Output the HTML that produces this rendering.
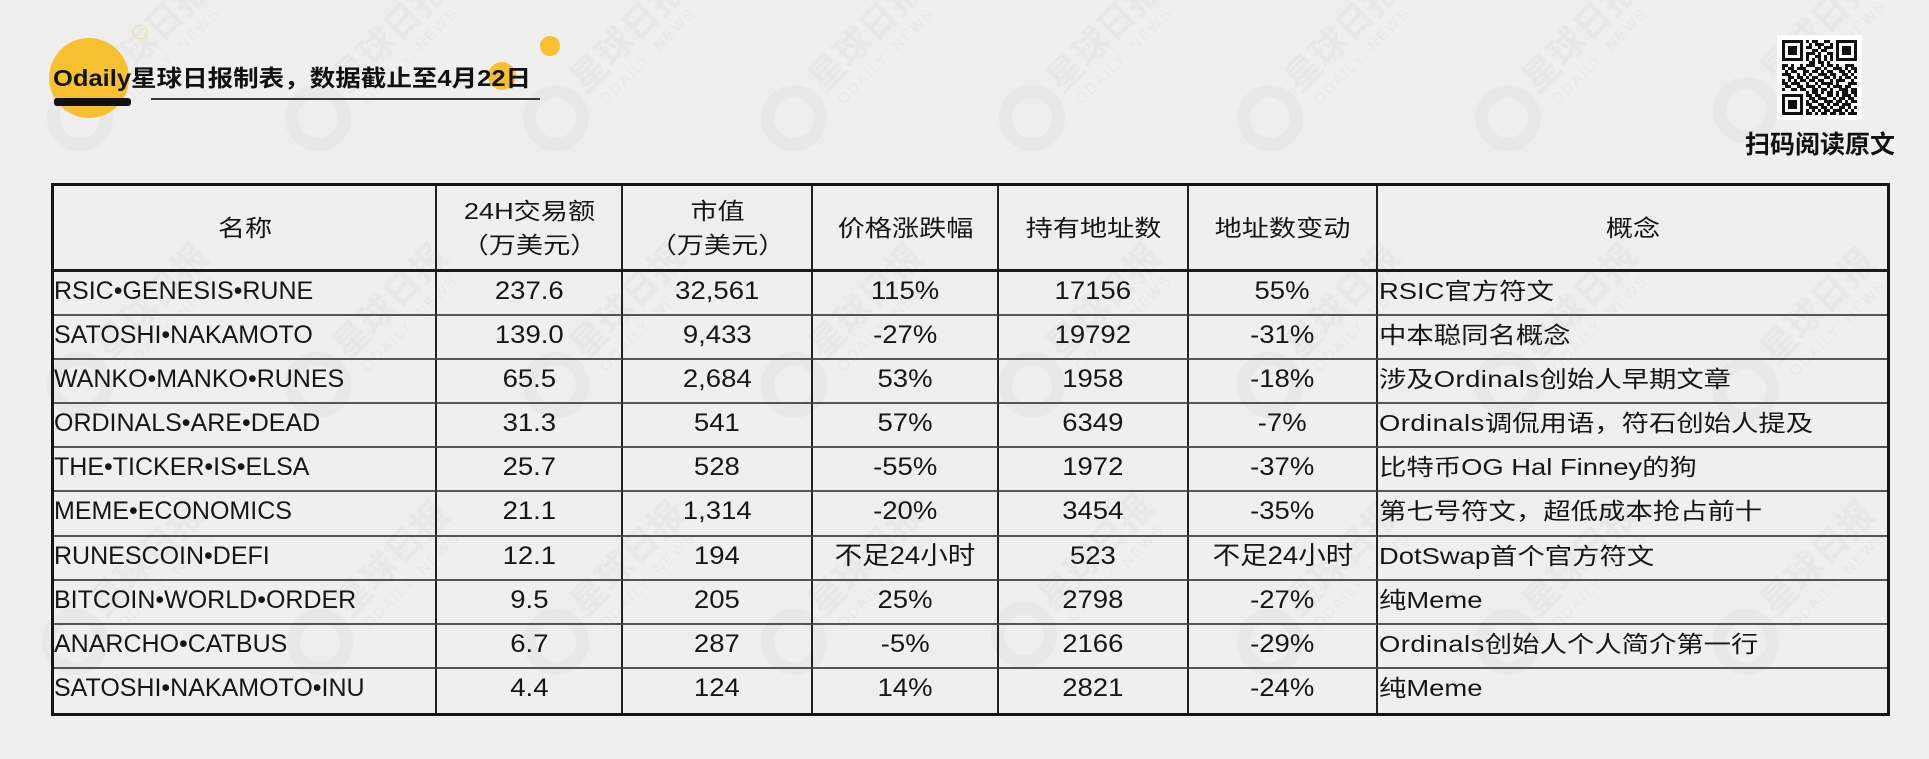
<!DOCTYPE html>
<html><head><meta charset="utf-8">
<style>
html,body{margin:0;padding:0}
body{background:#efefef;width:1929px;height:759px;overflow:hidden;position:relative;font-family:"Liberation Sans","Noto Sans CJK SC",sans-serif;color:#161616}
.wm{position:absolute;left:0;top:0}
.title{position:absolute;left:53px;top:64px;font-size:23px;line-height:28px;font-weight:700;white-space:nowrap;transform:scaleX(1.11);transform-origin:0 50%;color:#111}
.scan{position:absolute;left:1745px;top:130px;font-size:25px;line-height:30px;font-weight:700;white-space:nowrap;color:#111}
.tbl{position:absolute;left:51px;top:183px;width:1839px;height:533px;box-sizing:border-box;border:3px solid #161616;display:grid;grid-template-columns:383px 186px 190px 186px 190px 189px 509px;grid-template-rows:86px repeat(10,44.1px)}
.tbl>div{box-sizing:border-box;border-right:2px solid #222;border-bottom:2px solid #555;white-space:nowrap;overflow:visible}
.tbl>div.e{border-right:none}
.tbl>div.z{border-bottom:none}
.tbl>div.h{border-bottom:3px solid #1a1a1a;display:flex;align-items:center;justify-content:center;font-size:23px;line-height:34px;text-align:center}
.h span{display:inline-block;transform:scaleX(1.18)}
.n{font-size:25px;line-height:38px;padding-left:0}
.c{text-align:center;font-size:25px;line-height:38px}
.c span{display:inline-block;transform:scaleX(1.1)}
.k{font-size:23px;line-height:38px;padding-left:1px}
.k span{display:inline-block;transform:scaleX(1.19);transform-origin:0 50%}
.o{letter-spacing:0.4px;font-weight:400}
</style></head><body>

<svg class="wm" width="1929" height="759" viewBox="0 0 1929 759">
<g fill="#e8e8e8" stroke="#e8e8e8" font-family="Liberation Sans, Noto Sans CJK SC, sans-serif">
<g transform="translate(80,118)"><circle r="26.5" fill="none" stroke-width="13"/><g transform="rotate(-45)" stroke="none"><text x="38" y="4" font-size="36" font-weight="700">星球日报</text><text x="44" y="26" font-size="15" letter-spacing="2">ODAILY. NEWS</text></g></g>
<g transform="translate(318,118)"><circle r="26.5" fill="none" stroke-width="13"/><g transform="rotate(-45)" stroke="none"><text x="38" y="4" font-size="36" font-weight="700">星球日报</text><text x="44" y="26" font-size="15" letter-spacing="2">ODAILY. NEWS</text></g></g>
<g transform="translate(556,118)"><circle r="26.5" fill="none" stroke-width="13"/><g transform="rotate(-45)" stroke="none"><text x="38" y="4" font-size="36" font-weight="700">星球日报</text><text x="44" y="26" font-size="15" letter-spacing="2">ODAILY. NEWS</text></g></g>
<g transform="translate(794,118)"><circle r="26.5" fill="none" stroke-width="13"/><g transform="rotate(-45)" stroke="none"><text x="38" y="4" font-size="36" font-weight="700">星球日报</text><text x="44" y="26" font-size="15" letter-spacing="2">ODAILY. NEWS</text></g></g>
<g transform="translate(1032,118)"><circle r="26.5" fill="none" stroke-width="13"/><g transform="rotate(-45)" stroke="none"><text x="38" y="4" font-size="36" font-weight="700">星球日报</text><text x="44" y="26" font-size="15" letter-spacing="2">ODAILY. NEWS</text></g></g>
<g transform="translate(1270,118)"><circle r="26.5" fill="none" stroke-width="13"/><g transform="rotate(-45)" stroke="none"><text x="38" y="4" font-size="36" font-weight="700">星球日报</text><text x="44" y="26" font-size="15" letter-spacing="2">ODAILY. NEWS</text></g></g>
<g transform="translate(1508,118)"><circle r="26.5" fill="none" stroke-width="13"/><g transform="rotate(-45)" stroke="none"><text x="38" y="4" font-size="36" font-weight="700">星球日报</text><text x="44" y="26" font-size="15" letter-spacing="2">ODAILY. NEWS</text></g></g>
<g transform="translate(1746,110)"><circle r="26.5" fill="none" stroke-width="13"/><g transform="rotate(-45)" stroke="none"><text x="38" y="4" font-size="36" font-weight="700">星球日报</text><text x="44" y="26" font-size="15" letter-spacing="2">ODAILY. NEWS</text></g></g>

<g transform="translate(80,385)"><circle r="26.5" fill="none" stroke-width="13"/><g transform="rotate(-45)" stroke="none"><text x="38" y="4" font-size="36" font-weight="700">星球日报</text><text x="44" y="26" font-size="15" letter-spacing="2">ODAILY. NEWS</text></g></g>
<g transform="translate(318,385)"><circle r="26.5" fill="none" stroke-width="13"/><g transform="rotate(-45)" stroke="none"><text x="38" y="4" font-size="36" font-weight="700">星球日报</text><text x="44" y="26" font-size="15" letter-spacing="2">ODAILY. NEWS</text></g></g>
<g transform="translate(556,385)"><circle r="26.5" fill="none" stroke-width="13"/><g transform="rotate(-45)" stroke="none"><text x="38" y="4" font-size="36" font-weight="700">星球日报</text><text x="44" y="26" font-size="15" letter-spacing="2">ODAILY. NEWS</text></g></g>
<g transform="translate(794,385)"><circle r="26.5" fill="none" stroke-width="13"/><g transform="rotate(-45)" stroke="none"><text x="38" y="4" font-size="36" font-weight="700">星球日报</text><text x="44" y="26" font-size="15" letter-spacing="2">ODAILY. NEWS</text></g></g>
<g transform="translate(1032,385)"><circle r="26.5" fill="none" stroke-width="13"/><g transform="rotate(-45)" stroke="none"><text x="38" y="4" font-size="36" font-weight="700">星球日报</text><text x="44" y="26" font-size="15" letter-spacing="2">ODAILY. NEWS</text></g></g>
<g transform="translate(1270,385)"><circle r="26.5" fill="none" stroke-width="13"/><g transform="rotate(-45)" stroke="none"><text x="38" y="4" font-size="36" font-weight="700">星球日报</text><text x="44" y="26" font-size="15" letter-spacing="2">ODAILY. NEWS</text></g></g>
<g transform="translate(1508,385)"><circle r="26.5" fill="none" stroke-width="13"/><g transform="rotate(-45)" stroke="none"><text x="38" y="4" font-size="36" font-weight="700">星球日报</text><text x="44" y="26" font-size="15" letter-spacing="2">ODAILY. NEWS</text></g></g>
<g transform="translate(1746,390)"><circle r="26.5" fill="none" stroke-width="13"/><g transform="rotate(-45)" stroke="none"><text x="38" y="4" font-size="36" font-weight="700">星球日报</text><text x="44" y="26" font-size="15" letter-spacing="2">ODAILY. NEWS</text></g></g>

<g transform="translate(75,642)"><circle r="26.5" fill="none" stroke-width="13"/><g transform="rotate(-45)" stroke="none"><text x="38" y="4" font-size="36" font-weight="700">星球日报</text><text x="44" y="26" font-size="15" letter-spacing="2">ODAILY. NEWS</text></g></g>
<g transform="translate(320,642)"><circle r="26.5" fill="none" stroke-width="13"/><g transform="rotate(-45)" stroke="none"><text x="38" y="4" font-size="36" font-weight="700">星球日报</text><text x="44" y="26" font-size="15" letter-spacing="2">ODAILY. NEWS</text></g></g>
<g transform="translate(556,642)"><circle r="26.5" fill="none" stroke-width="13"/><g transform="rotate(-45)" stroke="none"><text x="38" y="4" font-size="36" font-weight="700">星球日报</text><text x="44" y="26" font-size="15" letter-spacing="2">ODAILY. NEWS</text></g></g>
<g transform="translate(794,642)"><circle r="26.5" fill="none" stroke-width="13"/><g transform="rotate(-45)" stroke="none"><text x="38" y="4" font-size="36" font-weight="700">星球日报</text><text x="44" y="26" font-size="15" letter-spacing="2">ODAILY. NEWS</text></g></g>
<g transform="translate(1024,635)"><circle r="26.5" fill="none" stroke-width="13"/><g transform="rotate(-45)" stroke="none"><text x="38" y="4" font-size="36" font-weight="700">星球日报</text><text x="44" y="26" font-size="15" letter-spacing="2">ODAILY. NEWS</text></g></g>
<g transform="translate(1270,642)"><circle r="26.5" fill="none" stroke-width="13"/><g transform="rotate(-45)" stroke="none"><text x="38" y="4" font-size="36" font-weight="700">星球日报</text><text x="44" y="26" font-size="15" letter-spacing="2">ODAILY. NEWS</text></g></g>
<g transform="translate(1508,642)"><circle r="26.5" fill="none" stroke-width="13"/><g transform="rotate(-45)" stroke="none"><text x="38" y="4" font-size="36" font-weight="700">星球日报</text><text x="44" y="26" font-size="15" letter-spacing="2">ODAILY. NEWS</text></g></g>
<g transform="translate(1746,642)"><circle r="26.5" fill="none" stroke-width="13"/><g transform="rotate(-45)" stroke="none"><text x="38" y="4" font-size="36" font-weight="700">星球日报</text><text x="44" y="26" font-size="15" letter-spacing="2">ODAILY. NEWS</text></g></g>
</g>
<!-- decorative yellow shapes -->
<circle cx="89" cy="78" r="40" fill="#f6c02f"/>
<circle cx="550" cy="46" r="10" fill="#f6c02f"/>
<circle cx="502" cy="76" r="14" fill="#f6c02f"/>
<circle cx="140" cy="32" r="7" fill="none" stroke="#f3dca0" stroke-width="1"/>
<!-- header rule -->
<rect x="54" y="98" width="77" height="8" rx="3" fill="#111"/>
<rect x="151" y="98" width="389" height="2" fill="#3a3a3a"/>
<!-- QR -->
<rect x="1777" y="35" width="85" height="85" fill="#ffffff"/>
<g id="qr" fill="#111"></g>
</svg>

<div class="title">Odaily星球日报制表，数据截止至4月22日</div>
<div class="scan">扫码阅读原文</div>

<div class="tbl">
<div class="h"><span>名称</span></div>
<div class="h"><span>24H交易额<br>（万美元）</span></div>
<div class="h"><span>市值<br>（万美元）</span></div>
<div class="h"><span>价格涨跌幅</span></div>
<div class="h"><span>持有地址数</span></div>
<div class="h"><span>地址数变动</span></div>
<div class="h e"><span>概念</span></div>

<div class="n">RSIC•GENESIS•RUNE</div><div class="c"><span>237.6</span></div><div class="c"><span>32,561</span></div><div class="c"><span>115%</span></div><div class="c"><span>17156</span></div><div class="c"><span>55%</span></div><div class="k e"><span>RSIC官方符文</span></div>

<div class="n">SATOSHI•NAKAMOTO</div><div class="c"><span>139.0</span></div><div class="c"><span>9,433</span></div><div class="c"><span>-27%</span></div><div class="c"><span>19792</span></div><div class="c"><span>-31%</span></div><div class="k e"><span>中本聪同名概念</span></div>

<div class="n">WANKO•MANKO•RUNES</div><div class="c"><span>65.5</span></div><div class="c"><span>2,684</span></div><div class="c"><span>53%</span></div><div class="c"><span>1958</span></div><div class="c"><span>-18%</span></div><div class="k e"><span>涉及<b class="o">Ordinals</b>创始人早期文章</span></div>

<div class="n">ORDINALS•ARE•DEAD</div><div class="c"><span>31.3</span></div><div class="c"><span>541</span></div><div class="c"><span>57%</span></div><div class="c"><span>6349</span></div><div class="c"><span>-7%</span></div><div class="k e"><span><b class="o">Ordinals</b>调侃用语，符石创始人提及</span></div>

<div class="n">THE•TICKER•IS•ELSA</div><div class="c"><span>25.7</span></div><div class="c"><span>528</span></div><div class="c"><span>-55%</span></div><div class="c"><span>1972</span></div><div class="c"><span>-37%</span></div><div class="k e"><span>比特币OG Hal Finney的狗</span></div>

<div class="n">MEME•ECONOMICS</div><div class="c"><span>21.1</span></div><div class="c"><span>1,314</span></div><div class="c"><span>-20%</span></div><div class="c"><span>3454</span></div><div class="c"><span>-35%</span></div><div class="k e"><span>第七号符文，超低成本抢占前十</span></div>

<div class="n">RUNESCOIN•DEFI</div><div class="c"><span>12.1</span></div><div class="c"><span>194</span></div><div class="c"><span>不足24小时</span></div><div class="c"><span>523</span></div><div class="c"><span>不足24小时</span></div><div class="k e"><span>DotSwap首个官方符文</span></div>

<div class="n">BITCOIN•WORLD•ORDER</div><div class="c"><span>9.5</span></div><div class="c"><span>205</span></div><div class="c"><span>25%</span></div><div class="c"><span>2798</span></div><div class="c"><span>-27%</span></div><div class="k e"><span>纯Meme</span></div>

<div class="n">ANARCHO•CATBUS</div><div class="c"><span>6.7</span></div><div class="c"><span>287</span></div><div class="c"><span>-5%</span></div><div class="c"><span>2166</span></div><div class="c"><span>-29%</span></div><div class="k e"><span><b class="o">Ordinals</b>创始人个人简介第一行</span></div>

<div class="n z">SATOSHI•NAKAMOTO•INU</div><div class="c z"><span>4.4</span></div><div class="c z"><span>124</span></div><div class="c z"><span>14%</span></div><div class="c z"><span>2821</span></div><div class="c z"><span>-24%</span></div><div class="k e z"><span>纯Meme</span></div>
</div>

<script>
(function(){
var F=["1111111","1000001","1011101","1011101","1011101","1000001","1111111"];
var mid=["101100110","010111001","110010111","001101100","111010011","100110101","101010101"];
var rows=[];
for(var i=0;i<7;i++)rows.push(F[i]+"0"+mid[i]+"0"+F[i]);
rows.push("0000000"+"0"+"011011010"+"0"+"0000000");
rows=rows.concat([
"1101001011100101101001110",
"1011011100011010011101011",
"0101100110110101100110101",
"1110010101001110110011010",
"0011011010110011010101101",
"1010101101101100101110010",
"1101110010010111101000111",
"0110011011101001011101100",
"1001101100110110100111011"]);
rows.push("00000000"+"10110101101011011");
var b=["11011001101011101","01101110010110110","10110011101101011","11001101011011100","01110110100110101","10101011011101010","11010110110110111"];
for(var k=0;k<7;k++)rows.push(F[k]+"0"+b[k]);
var g=document.getElementById("qr"),ns="http://www.w3.org/2000/svg";
for(var y=0;y<rows.length;y++){
 var r=rows[y];
 for(var x=0;x<r.length;x++){
  if(r[x]==="1"){
   var e=document.createElementNS(ns,"rect");
   e.setAttribute("x",1782+x*3);e.setAttribute("y",40+y*3);
   e.setAttribute("width",3);e.setAttribute("height",3);
   g.appendChild(e);
  }
 }
}
})();
</script>
</body></html>
